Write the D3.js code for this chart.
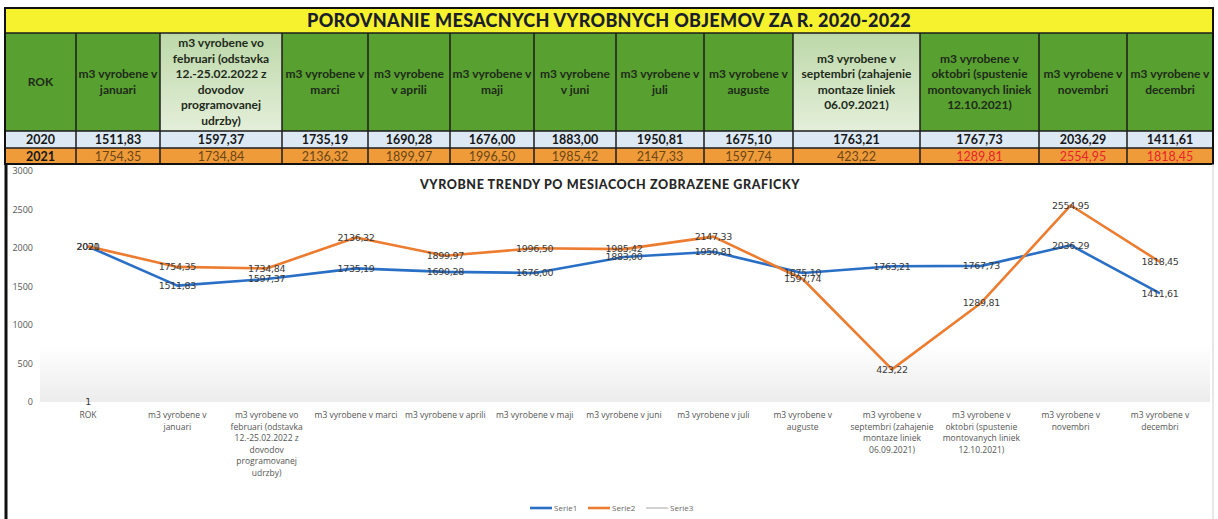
<!DOCTYPE html>
<html>
<head>
<meta charset="utf-8">
<script src="https://cdn.jsdelivr.net/npm/d3@7"></script>
<style>
  body { margin: 0; background: #fff; }
  svg { display: block; }
</style>
</head>
<body>
<div id="chart"></div>
<script>
// data
var title = "POROVNANIE MESACNYCH VYROBNYCH OBJEMOV ZA R. 2020-2022"
var chartTitle = "VYROBNE TRENDY PO MESIACOCH ZOBRAZENE GRAFICKY"

var categories = [
  "ROK",
  "m3 vyrobene v januari",
  "m3 vyrobene vo februari (odstavka 12.-25.02.2022 z dovodov programovanej udrzby)",
  "m3 vyrobene v marci",
  "m3 vyrobene v aprili",
  "m3 vyrobene v maji",
  "m3 vyrobene v juni",
  "m3 vyrobene v juli",
  "m3 vyrobene v auguste",
  "m3 vyrobene v septembri (zahajenie montaze liniek 06.09.2021)",
  "m3 vyrobene v oktobri (spustenie montovanych liniek 12.10.2021)",
  "m3 vyrobene v novembri",
  "m3 vyrobene v decembri"
]

var serie1 = [2020, 1511.83, 1597.37, 1735.19, 1690.28, 1676.00, 1883.00, 1950.81, 1675.10, 1763.21, 1767.73, 2036.29, 1411.61]
var serie2 = [2021, 1754.35, 1734.84, 2136.32, 1899.97, 1996.50, 1985.42, 2147.33, 1597.74, 423.22, 1289.81, 2554.95, 1818.45]
var serie3 = [1]

var yTicks = [0, 500, 1000, 1500, 2000, 2500, 3000]
var seriesNames = ["Serie1", "Serie2", "Serie3"]

// layout
var W = 1218, H = 519
var colWidths = [71, 84, 122, 86, 82, 84, 82, 88, 89, 127, 119, 88, 86]
var paleCols = [2, 9]
var tableX = 5, titleTop = 8, headTop = 33, row1Top = 131, row2Top = 148, tableBottom = 164
var headFont = "Lato, 'Open Sans', sans-serif"
var axisFont = "'Open Sans', sans-serif"

var svg = d3.select("#chart").append("svg")
  .attr("width", W).attr("height", H)
  .style("font-family", headFont)

var defs = svg.append("defs")
var pale = defs.append("linearGradient").attr("id", "pale").attr("x1", 0).attr("y1", 0).attr("x2", 0).attr("y2", 1)
pale.append("stop").attr("offset", "0%").attr("stop-color", "#bcd8a8")
pale.append("stop").attr("offset", "100%").attr("stop-color", "#e4efda")
var haze = defs.append("linearGradient").attr("id", "haze").attr("x1", 0).attr("y1", 0).attr("x2", 0).attr("y2", 1)
haze.append("stop").attr("offset", "0%").attr("stop-color", "#ffffff")
haze.append("stop").attr("offset", "100%").attr("stop-color", "#ececec")

var fmt = function(v, i){ return i == 0 ? String(v) : d3.format(".2f")(v).replace(".", ",") }

// wrap text into lines that fit maxW
function wrapLines(text, maxW, fontSize, weight, family){
  var tmp = svg.append("text").attr("font-size", fontSize).attr("font-weight", weight)
    .style("font-family", family)
  var words = text.split(" "), lines = [], cur = ""
  words.forEach(function(w){
    var test = cur ? cur + " " + w : w
    tmp.text(test)
    if (tmp.node().getComputedTextLength() > maxW && cur) { lines.push(cur); cur = w }
    else cur = test
  })
  if (cur) lines.push(cur)
  tmp.remove()
  return lines
}

//---------------- table ----------------
var colX = [tableX]
colWidths.forEach(function(w, i){ colX.push(colX[i] + w) })
var tableRight = colX[colX.length - 1]

// title row
svg.append("rect").attr("x", tableX).attr("y", titleTop)
  .attr("width", tableRight - tableX).attr("height", headTop - titleTop)
  .attr("fill", "#f7f22e")
svg.append("text").attr("x", (tableX + tableRight) / 2).attr("y", 27)
  .attr("text-anchor", "middle").attr("font-size", 18).attr("font-weight", 900)
  .attr("fill", "#1b1f2a").style("letter-spacing", "0.3px")
  .text(title)

var head = svg.append("g")
categories.forEach(function(c, i){
  var x0 = colX[i], w = colWidths[i]
  head.append("rect").attr("x", x0).attr("y", headTop).attr("width", w).attr("height", row1Top - headTop)
    .attr("fill", paleCols.indexOf(i) >= 0 ? "url(#pale)" : "#58a030")
  var lines = wrapLines(c, w - 4, 12, 700, headFont)
  var lh = 15.5
  var y0 = (headTop + row1Top) / 2 - (lines.length - 1) * lh / 2 + 4
  lines.forEach(function(l, j){
    head.append("text").attr("x", x0 + w / 2).attr("y", y0 + j * lh)
      .attr("text-anchor", "middle").attr("font-size", 12).attr("font-weight", 700)
      .attr("fill", "#1e2a1a").text(l)
  })

  // value rows
  head.append("rect").attr("x", x0).attr("y", row1Top).attr("width", w).attr("height", row2Top - row1Top)
    .attr("fill", "#dce9f5")
  head.append("rect").attr("x", x0).attr("y", row2Top).attr("width", w).attr("height", tableBottom - row2Top)
    .attr("fill", "#ef9b3a")
  head.append("text").attr("x", x0 + w / 2).attr("y", row1Top + 13)
    .attr("text-anchor", "middle").attr("font-size", 12.5).attr("font-weight", 700)
    .attr("fill", "#161616").text(fmt(serie1[i], i))
  head.append("text").attr("x", x0 + w / 2).attr("y", row2Top + 12.5)
    .attr("text-anchor", "middle").attr("font-size", 12.5).attr("font-weight", i == 0 ? 700 : 400)
    .attr("fill", i == 0 ? "#161616" : (i >= 10 ? "#e8222a" : "#6a4516")).text(fmt(serie2[i], i))
})

// table grid lines
colX.forEach(function(x){
  svg.append("line").attr("x1", x).attr("x2", x).attr("y1", headTop).attr("y2", tableBottom)
    .attr("stroke", "#1c1c1c").attr("stroke-width", 1.5)
})
;[titleTop, headTop, row1Top, row2Top, tableBottom].forEach(function(y){
  svg.append("line").attr("x1", tableX).attr("x2", tableRight).attr("y1", y).attr("y2", y)
    .attr("stroke", "#1c1c1c").attr("stroke-width", 1.5)
})
svg.append("rect").attr("x", tableX).attr("y", titleTop).attr("width", tableRight - tableX)
  .attr("height", tableBottom - titleTop).attr("fill", "none").attr("stroke", "#111").attr("stroke-width", 2)

//---------------- chart ----------------
// frame of chart area
svg.append("rect").attr("x", 40).attr("y", 345).attr("width", 1170).attr("height", 57).attr("fill", "url(#haze)")
svg.append("line").attr("x1", 6).attr("x2", 6).attr("y1", tableBottom).attr("y2", H)
  .attr("stroke", "#111").attr("stroke-width", 3)
svg.append("line").attr("x1", 1213).attr("x2", 1213).attr("y1", tableBottom).attr("y2", H)
  .attr("stroke", "#cfcfcf").attr("stroke-width", 1)

var x = d3.scalePoint().domain(d3.range(categories.length)).range([88, 1160])
var y = d3.scaleLinear().domain([0, 3000]).range([402, 171])

// y axis
var yAxis = d3.axisLeft(y).tickValues(yTicks).tickFormat(d3.format("d")).tickSize(0).tickPadding(0)
var yg = svg.append("g").attr("transform", "translate(33,0)").call(yAxis)
yg.select(".domain").remove()
yg.selectAll("text").attr("font-size", 9).attr("fill", "#555").style("font-family", axisFont)

// x axis labels
var xg = svg.append("g")
categories.forEach(function(c, i){
  var lines = wrapLines(c, 84, 8.5, 400, axisFont)
  lines.forEach(function(l, j){
    xg.append("text").attr("x", x(i)).attr("y", 418 + j * 11.5)
      .attr("text-anchor", "middle").attr("font-size", 8.5)
      .attr("fill", "#555").style("font-family", axisFont).text(l)
  })
})

// chart title
svg.append("text").attr("x", 610).attr("y", 189).attr("text-anchor", "middle")
  .attr("font-size", 12.5).attr("font-weight", 900).attr("fill", "#262626")
  .style("letter-spacing", "0.6px").text(chartTitle)

var line = d3.line().x(function(d, i){ return x(i) }).y(function(d){ return y(d) })
var series = [
  { name: seriesNames[0], values: serie1, color: "#2a6fc6" },
  { name: seriesNames[1], values: serie2, color: "#ec7c30" },
  { name: seriesNames[2], values: serie3, color: "#b5b5b5" }
]

series.forEach(function(s){
  svg.append("path").datum(s.values).attr("d", line)
    .attr("fill", "none").attr("stroke", s.color).attr("stroke-width", 2.6)
    .attr("stroke-linejoin", "round")
})

// data labels
series.forEach(function(s){
  svg.append("g").selectAll("text").data(s.values).enter().append("text")
    .attr("x", function(d, i){ return x(i) })
    .attr("y", function(d){ return y(d) })
    .attr("dy", "0.35em")
    .attr("text-anchor", "middle").attr("font-size", 9.5)
    .attr("fill", "#3a3a3a").style("font-family", "'DejaVu Sans', sans-serif")
    .style("letter-spacing", "-0.3px")
    .text(function(d, i){ return fmt(d, i) })
})

// legend
var legend = svg.append("g").attr("transform", "translate(530,508)")
series.forEach(function(s, i){
  var g = legend.append("g").attr("transform", "translate(" + (i * 58) + ",0)")
  g.append("line").attr("x1", 0).attr("x2", 22).attr("stroke", s.color).attr("stroke-width", i == 2 ? 1.2 : 2.6)
  g.append("text").attr("x", 24).attr("dy", "0.35em").attr("font-size", 8)
    .attr("fill", "#666").style("font-family", axisFont).text(s.name)
})
</script>
</body>
</html>
